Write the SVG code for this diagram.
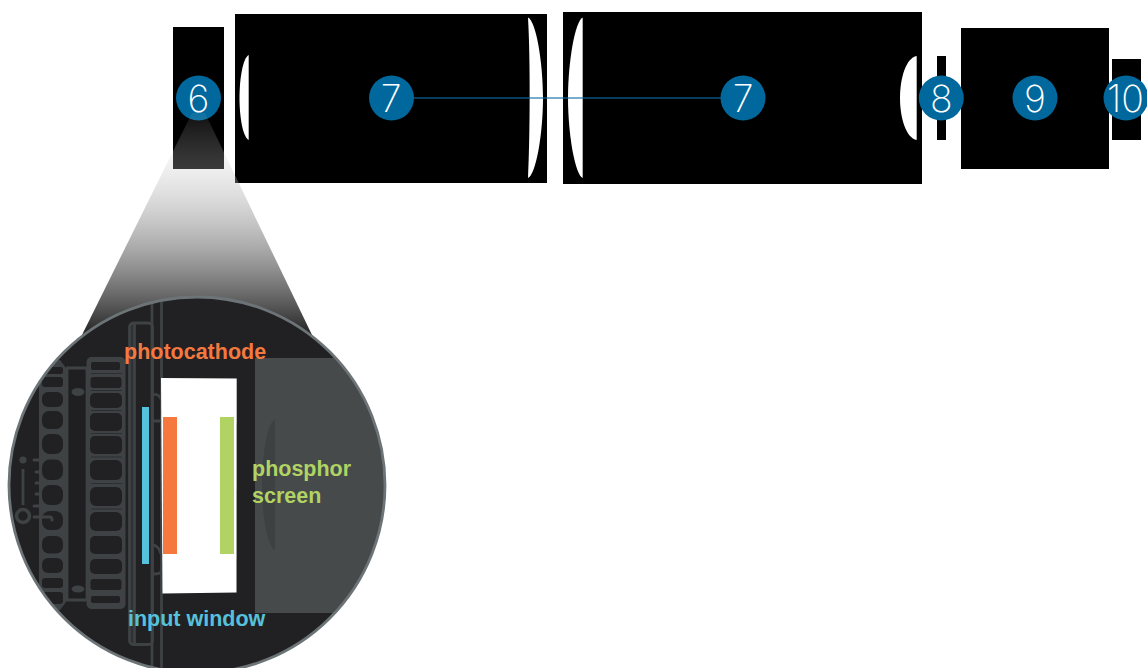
<svg xmlns="http://www.w3.org/2000/svg" width="1147" height="668" viewBox="0 0 1147 668">
<style>
.blk{fill:#000}
.lens{fill:#fff}
.badge{fill:#00689c}
.num{font-family:"Inter","Liberation Sans",sans-serif;font-weight:200;font-size:37.500px;fill:#fff;text-anchor:middle}
.lbl{font-family:"Liberation Sans",Arial,sans-serif;font-weight:700;font-size:21.500px}
.m{fill:#3e4244}
.c{fill:#212123}
.s{fill:none;stroke:#3e4244;stroke-width:2.800}
</style>
<defs>
<linearGradient id="fade" gradientUnits="userSpaceOnUse" x1="0" y1="113" x2="0" y2="335">
<stop offset="0" stop-color="#fff" stop-opacity="0.06"/>
<stop offset="1" stop-color="#222" stop-opacity="1"/>
</linearGradient>
<clipPath id="lensClip"><circle cx="197" cy="485" r="187"/></clipPath>
</defs>
<g id="element-6-block"><rect class="blk" x="173" y="27" width="51" height="142"/></g>
<g id="element-7a-block"><rect class="blk" x="235" y="14" width="312" height="169"/>
<path class="lens" d="M248.700,55 C243,58 239.500,78 239.500,98 C239.500,118 243,137 248.700,140 Z"/>
<path class="lens" d="M528,17.500 C536,21 543,62 543,98 C543,134 536,175 528,178 C530,140 530.500,60 528,17.500 Z"/></g>
<g id="element-7b-block"><rect class="blk" x="563" y="12" width="359" height="172"/>
<path class="lens" d="M582.700,17.500 C575,21 568,62 568,98 C568,134 575,175 582.700,178 Z"/>
<path class="lens" d="M916.700,56 C906,58 900,78 900,98 C900,118 906,138 916.700,140 Z"/></g>
<g id="element-8-block"><rect class="blk" x="937" y="56" width="9" height="84"/></g>
<g id="element-9-block"><rect class="blk" x="961" y="28" width="148" height="141"/></g>
<g id="element-10-block"><rect class="blk" x="1112" y="59" width="29" height="81"/></g>
<g id="connectors"><line x1="414" y1="98" x2="721" y2="98" stroke="#0a6fa3" stroke-width="1.300" stroke-opacity="0.75"/></g>
<g id="badge-6"><circle class="badge" cx="198.500" cy="98" r="22.500"/><text class="num" x="198.500" y="111.500">6</text></g>
<g id="badge-7a"><circle class="badge" cx="391.500" cy="98" r="22.500"/><text class="num" x="391" y="111.500">7</text></g>
<g id="badge-7b"><circle class="badge" cx="743" cy="98" r="22.500"/><text class="num" x="743" y="111.500">7</text></g>
<g id="badge-8"><circle class="badge" cx="941.300" cy="98" r="22.500"/><text class="num" x="941.300" y="111.500">8</text></g>
<g id="badge-9"><circle class="badge" cx="1035" cy="98" r="22.500"/><text class="num" x="1035" y="111.500">9</text></g>
<g id="badge-10"><circle class="badge" cx="1126" cy="98" r="22.500"/><text class="num" x="1125.500" y="111.500">10</text></g>
<polygon id="zoom-beam" points="192,113 205,113 313,337 81,337" fill="url(#fade)"/>
<g id="magnifier">
<circle cx="197" cy="485" r="188" fill="#212123"/>
<g clip-path="url(#lensClip)">
<rect x="255" y="358" width="140" height="255" fill="#464a4b"/>
<path d="M275,419 C266,425 262,460 262,485 C262,510 266,545 275,550 Z" fill="#3d4142"/>
<path class="s" d="M152,300 V668" stroke-width="3.500"/>
<path class="s" d="M161.500,300 V668"/>
<rect x="129" y="324" width="5" height="320" fill="#2f3234"/>
<rect class="s" x="129.500" y="323" width="23" height="321.500" rx="4"/>
<path class="s" d="M134.500,324 V643"/>
<path class="s" d="M153,395 C156,393 160,396 161,399 M153,421 H161 M153,545 C156,545 160,549 161,554 M153,574 C156,574 160,574 161,572"/>
<rect class="m" x="86.500" y="357" width="39" height="252" rx="5"/>
<g class="c">
<rect x="91" y="362" width="29" height="8" rx="2"/>
<rect x="90.500" y="377" width="31" height="11" rx="3"/>
<rect x="90" y="393" width="32" height="15" rx="5"/>
<rect x="90" y="413" width="32" height="18" rx="5"/>
<rect x="90" y="436" width="32" height="18" rx="5"/>
<rect x="90" y="460" width="32" height="20" rx="6"/>
<rect x="90" y="487" width="32" height="19" rx="6"/>
<rect x="90" y="512" width="32" height="19" rx="6"/>
<rect x="90" y="536" width="32" height="18" rx="5"/>
<rect x="90" y="559" width="32" height="15" rx="5"/>
<rect x="90.500" y="579" width="31" height="11" rx="3"/>
<rect x="91" y="596" width="29" height="7" rx="2"/>
</g>
<path d="M91,373.500 H122 M91,390.500 H122 M91,410.500 H122 M91,433.500 H122 M91,457 H122 M91,483.500 H122 M91,509 H122" stroke="#2c2f31" stroke-width="1" fill="none"/>
<rect x="67" y="368" width="20" height="232" fill="#1f1f21"/>
<path class="s" d="M66,368 H88 M66,600 H88 M67,368 V600 M87,368 V600"/>
<ellipse class="m" cx="78" cy="392" rx="6.500" ry="4"/>
<ellipse class="m" cx="78" cy="589" rx="6.500" ry="3.500"/>
<path class="m" d="M39,368 L46,360 H60 L66,368 V602 L60,610 H46 L39,602 Z"/>
<g class="c">
<rect x="42" y="367" width="21" height="7" rx="2"/>
<rect x="42" y="377" width="21" height="10" rx="3"/>
<rect x="42" y="392" width="21" height="15" rx="6"/>
<rect x="42" y="411" width="21" height="18" rx="7"/>
<rect x="42" y="434" width="21" height="20" rx="8"/>
<rect x="42" y="459.500" width="21" height="20.500" rx="8"/>
<rect x="42" y="485" width="21" height="20" rx="8"/>
<rect x="42" y="511" width="21" height="19" rx="8"/>
<rect x="42" y="536" width="21" height="17.500" rx="7"/>
<rect x="42" y="558" width="21" height="15" rx="6"/>
<rect x="42" y="578" width="21" height="10" rx="3"/>
<rect x="42" y="592" width="21" height="12" rx="3"/>
</g>
<circle class="m" cx="23" cy="460" r="3.600"/>
<path class="s" d="M23,469 V505" stroke-width="3"/>
<circle cx="23" cy="516" r="6.500" fill="none" stroke="#3e4244" stroke-width="3.500"/>
<path d="M34,460 H40 M36,472 H40 M36,483 H40 M36,494 H40 M34,506 H40 M34,517 H50 Q52,517 52,520" fill="none" stroke="#3e4244" stroke-width="3" stroke-linecap="round"/>
</g>
<circle cx="197" cy="485" r="188" fill="none" stroke="#6d7478" stroke-width="2.800"/>
</g>
<g id="tube-cross-section">
<polygon points="161,378 236.700,378.500 236.500,592.500 162.500,593.500" fill="#fff"/>
</g>
<g id="input-window"><rect x="142" y="407" width="7" height="157" fill="#56c1dd"/><text class="lbl" x="128" y="626" fill="#56c1dd">input window</text></g>
<g id="photocathode"><rect x="163" y="417" width="14" height="137" fill="#f5793f"/><text class="lbl" x="124" y="359" fill="#f5793f">photocathode</text></g>
<g id="phosphor-screen"><rect x="220" y="417" width="14" height="137" fill="#b1d364"/><text class="lbl" x="252" y="476" fill="#b1d364">phosphor</text><text class="lbl" x="252" y="503" fill="#b1d364">screen</text></g>
</svg>
